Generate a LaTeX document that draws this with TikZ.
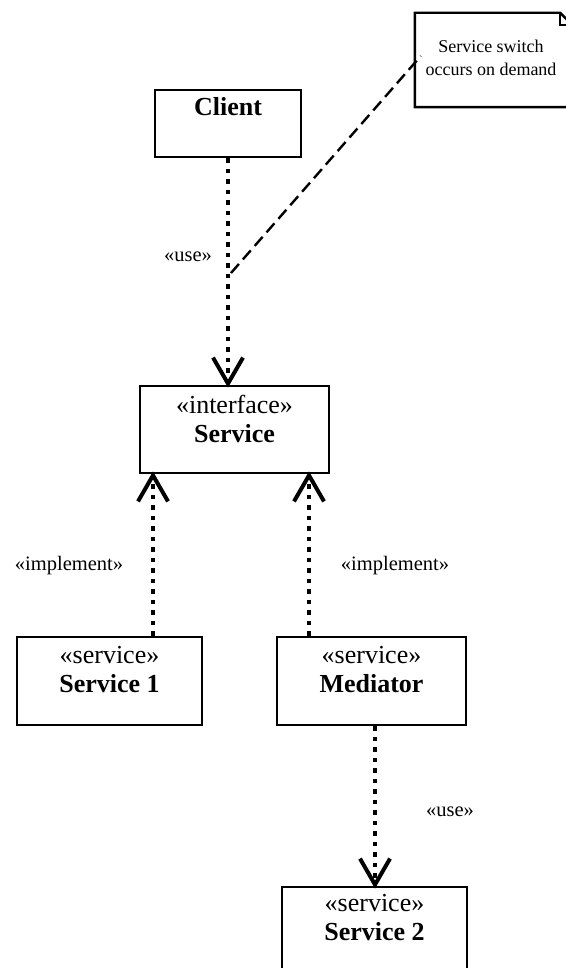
\documentclass[tikz,border=0pt]{standalone}
\usepackage{fontspec}
\setmainfont{Liberation Serif}
\usetikzlibrary{arrows.meta,positioning}
\tikzset{
  classbox/.style={draw, line width=2.8pt, inner sep=0pt},
  boxtext/.style={align=center, inner sep=0pt, font=\fontsize{26}{29}\selectfont},
  depend/.style={line width=4.5pt, dash pattern=on 4.5pt off 6pt,
    -{Straight Barb[length=26pt,width=30pt,line width=4pt]}, shorten >=-3pt},
  tag/.style={inner sep=0pt, font=\fontsize{20.5}{24}\selectfont},
  notelink/.style={line width=2.4pt, dash pattern=on 12pt off 6pt},
}
\begin{document}
\begin{tikzpicture}[x=1pt,y=-1pt]
	\useasboundingbox (0,0) rectangle (565,968);
	% classes
	\node[classbox, minimum width=146pt, minimum height=67pt] (client) at (228,123.5) {};
	\node[boxtext, below=9pt of client.north] (clientname) {\textbf{Client}};
	\node[classbox, minimum width=189pt, minimum height=87pt] (service) at (234.5,429.5) {};
	\node[boxtext, below=10pt of service.north] (servicename) {«interface»\\\textbf{Service}};
	\node[classbox, minimum width=185pt, minimum height=88pt] (service1) at (109.5,681) {};
	\node[boxtext, below=10pt of service1.north] (service1name) {«service»\\\textbf{Service 1}};
	\node[classbox, minimum width=189pt, minimum height=88pt] (mediator) at (371.5,681) {};
	\node[boxtext, below=10pt of mediator.north] (mediatorname) {«service»\\\textbf{Mediator}};
	\node[classbox, minimum width=185pt, minimum height=88pt] (service2) at (374.5,931) {};
	\node[boxtext, below=8pt of service2.north] (service2name) {«service»\\\textbf{Service 2}};
	% note
	\node[minimum width=157pt, minimum height=94pt, inner sep=0pt] (note) at (493.5,60) {};
	\draw[line width=2.4pt] (note.north west) -- ([xshift=-12pt]note.north east)
		-- ([yshift=-12pt]note.north east) -- (note.south east) -- (note.south west) -- cycle;
	\draw[line width=2pt] ([xshift=-12pt]note.north east) -- ([xshift=-12pt,yshift=-12pt]note.north east)
		-- ([yshift=-12pt]note.north east);
	\node[align=center, inner sep=0pt, font=\fontsize{18}{23}\selectfont] (notetext) at (491,58)
		{Service switch\\occurs on demand};
	% dependencies
	\draw[depend] (client.south) -- (client.south |- service.north);
	\coordinate (impl1) at ([xshift=43.5pt]service1.north);
	\coordinate (impl2) at ([xshift=-62.5pt]mediator.north);
	\coordinate (use2) at ([xshift=3.5pt]mediator.south);
	\draw[depend] (impl1) -- (impl1 |- service.south);
	\draw[depend] (impl2) -- (impl2 |- service.south);
	\draw[depend] (use2) -- (use2 |- service2.north);
	\node[tag] (use1label) at (188,257) {«use»};
	\node[tag] (impl1label) at (69,566) {«implement»};
	\node[tag] (impl2label) at (395,566) {«implement»};
	\node[tag] (use2label) at (450,812) {«use»};
	% note link
	\coordinate (notefoot) at (231,273);
	\draw[notelink] (notefoot) -- ([xshift=6pt,yshift=4pt]note.west);
\end{tikzpicture}
\end{document}
